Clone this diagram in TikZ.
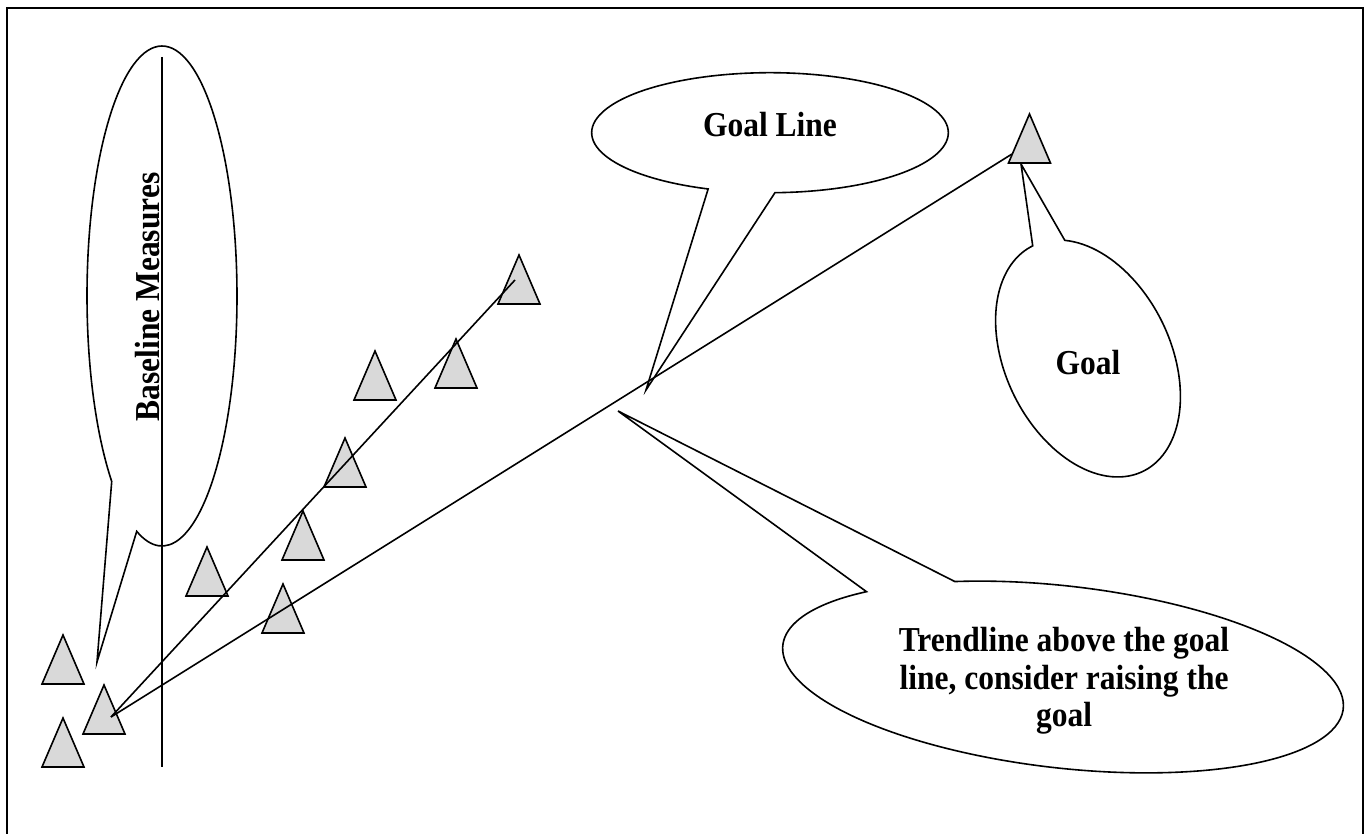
\documentclass[tikz,border=0pt]{standalone}
\usepackage{fontspec}
\setmainfont{Liberation Serif}[FakeStretch=0.9]
\usetikzlibrary{calc}
\definecolor{trigray}{RGB}{217,217,217}
\begin{document}
\begin{tikzpicture}[x=1pt,y=-1pt,
  ln/.style={line width=1.6pt, line join=miter},
  tri/.style={draw, fill=trigray, line width=1.6pt, line join=miter},
  bub/.style={draw, fill=white, line width=1.6pt, line join=miter},
  lbl/.style={font=\fontsize{35}{37.5}\selectfont\bfseries, inner sep=0pt},
  tripic/.pic={\draw[tri] (-21,0) -- (0,-49) -- (21,0) -- cycle;}]
\useasboundingbox (0,0) rectangle (1369,834);

% frame (open at the bottom)
\draw[ln] (7,845) -- (7,8) -- (1363,8) -- (1363,845);

% tips of the callouts
\coordinate (bmtip) at (97,662);
\coordinate (gltip) at (646,390);
\coordinate (gtip) at (1021,164);
\coordinate (tltip) at (618,411);

% Baseline Measures callout
\begin{scope}[shift={(162,296)}]
  \draw[bub] (132.1:75 and 250) arc [start angle=132.1, end angle=469.7, x radius=75, y radius=250]
    -- (bmtip) -- cycle;
\end{scope}

% Goal Line callout
\begin{scope}[shift={(770,132.7)}]
  \draw[bub] (110.3:178.3 and 60) arc [start angle=110.3, end angle=448.4, x radius=178.3, y radius=60]
    -- (gltip) -- cycle;
\end{scope}

% Goal callout
\begin{scope}[shift={(1088,358.5)}, rotate=26]
  \draw[bub] (-68:82.6 and 125.5) arc [start angle=-68, end angle=269.8, x radius=82.6, y radius=125.5]
    -- (gtip) -- cycle;
\end{scope}

% Trendline callout
\begin{scope}[shift={(1063,677)}, rotate=-6.5]
  \draw[bub] (-114.8:282 and 91) arc [start angle=-114.8, end angle=223.4, x radius=282, y radius=91]
    -- (tltip) -- cycle;
\end{scope}

% data points
\pic (t1) at (63,684) {tripic};
\pic (t2) at (104,734) {tripic};
\pic (t3) at (63,767) {tripic};
\pic (t4) at (207,596) {tripic};
\pic (t5) at (283,633) {tripic};
\pic (t6) at (303,560) {tripic};
\pic (t7) at (345,487) {tripic};
\pic (t8) at (375,400) {tripic};
\pic (t9) at (456,388) {tripic};
\pic (t10) at (519,304) {tripic};
\pic (tg) at (1029.5,163) {tripic};

% trend line and goal line
\coordinate (lo) at (111,717);
\coordinate (th) at (515,280);
\coordinate (gh) at (1012,154);
\draw[ln] (lo) -- (th);
\draw[ln] (lo) -- (gh);

% baseline separator
\coordinate (vtop) at (162,57);
\coordinate (vbot) at (162,767);
\draw[ln] (vtop) -- (vbot);

% texts
\node[lbl, rotate=90, anchor=base] (bmtext) at (159,297) {Baseline Measures};
\node[lbl, anchor=base] (gltext) at (770,137) {Goal Line};
\node[lbl, anchor=base] (gtext) at (1088,374) {Goal};
\node[lbl, align=center] (tltext) at (1064,681) {Trendline above the goal\\line, consider raising the\\goal};
\end{tikzpicture}
\end{document}
